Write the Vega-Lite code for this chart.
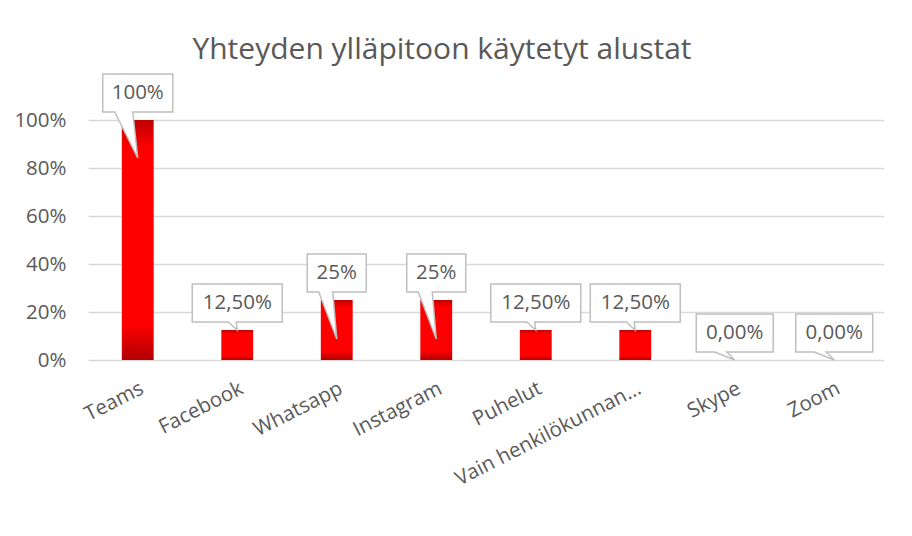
{
  "$schema": "https://vega.github.io/schema/vega-lite/v6.json",
  "autosize": {"type": "none"},
  "width": 796,
  "height": 240,
  "padding": {"left": 88, "top": 120, "right": 28, "bottom": 176},
  "background": "white",
  "title": {
    "text": "Yhteyden ylläpitoon käytetyt alustat",
    "font": "Open Sans",
    "fontSize": 30,
    "fontWeight": "normal",
    "color": "#595959",
    "anchor": "middle",
    "dx": -44,
    "offset": 6
  },
  "config": {
    "view": {"stroke": null},
    "font": "Open Sans"
  },
  "data": {
    "values": [
      {"alusta": "Teams", "osuus": 1.0, "label": "100%"},
      {"alusta": "Facebook", "osuus": 0.125, "label": "12,50%"},
      {"alusta": "Whatsapp", "osuus": 0.25, "label": "25%"},
      {"alusta": "Instagram", "osuus": 0.25, "label": "25%"},
      {"alusta": "Puhelut", "osuus": 0.125, "label": "12,50%"},
      {"alusta": "Vain henkilökunnan…", "osuus": 0.125, "label": "12,50%"},
      {"alusta": "Skype", "osuus": 0.0, "label": "0,00%"},
      {"alusta": "Zoom", "osuus": 0.0, "label": "0,00%"}
    ]
  },
  "encoding": {
    "x": {
      "field": "alusta",
      "type": "nominal",
      "sort": null,
      "title": null,
      "scale": {"paddingInner": 0.68, "paddingOuter": 0.34},
      "axis": {
        "labelAngle": -27,
        "labelFont": "Open Sans",
        "labelFontSize": 20.5,
        "labelColor": "#595959",
        "labelPadding": 18,
        "labelLimit": 300,
        "domain": false,
        "ticks": false
      }
    },
    "y": {
      "field": "osuus",
      "type": "quantitative",
      "title": null,
      "scale": {"domain": [0, 1]},
      "axis": {
        "values": [0, 0.2, 0.4, 0.6, 0.8, 1],
        "format": ".0%",
        "labelFont": "Open Sans",
        "labelFontSize": 20.5,
        "labelColor": "#595959",
        "labelPadding": 22,
        "domain": false,
        "ticks": false,
        "gridColor": "#d9d9d9",
        "gridWidth": 1.3
      }
    }
  },
  "layer": [
    {
      "mark": {
        "type": "bar",
        "color": {
          "gradient": "linear",
          "x1": 0, "y1": 0, "x2": 0, "y2": 1,
          "stops": [
            {"offset": 0, "color": "#c00000"},
            {"offset": 0.12, "color": "#ff0000"},
            {"offset": 0.85, "color": "#ff0000"},
            {"offset": 1, "color": "#b00000"}
          ]
        }
      }
    },
    {
      "mark": {
        "type": "point",
        "filled": true,
        "fill": "white",
        "stroke": "#bfbfbf",
        "strokeWidth": 1.5,
        "opacity": 1,
        "size": 10000
      },
      "encoding": {
        "shape": {
          "field": "label",
          "type": "nominal",
          "legend": null,
          "scale": {
            "domain": ["100%", "25%", "12,50%", "0,00%"],
            "range": [
              "M-0.7,-0.92H0.7V-0.16H-0.1L0,0.76L-0.46,-0.16H-0.7Z",
              "M-0.59,-0.92H0.59V-0.16H-0.08L0,0.78L-0.36,-0.16H-0.59Z",
              "M-0.9,-0.92H0.9V-0.16H-0.02L0,0L-0.18,-0.16H-0.9Z",
              "M-0.77,-0.92H0.77V-0.16H-0.16L0,0L-0.4,-0.16H-0.77Z"
            ]
          }
        }
      }
    },
    {
      "mark": {
        "type": "text",
        "font": "Open Sans",
        "fontSize": 20.5,
        "color": "#595959",
        "dy": -27,
        "baseline": "middle",
        "align": "center"
      },
      "encoding": {
        "text": {"field": "label"}
      }
    }
  ]
}
